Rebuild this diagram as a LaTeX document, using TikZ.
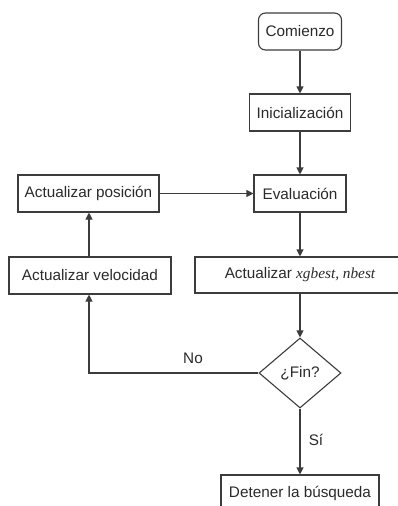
\documentclass[tikz,border=0pt]{standalone}
\usepackage{fontspec}
\setmainfont{Liberation Sans}
\newfontfamily\serifit{Liberation Serif}
\usetikzlibrary{arrows.meta,shapes.geometric}
\definecolor{ln}{HTML}{3C3C3C}
\definecolor{tx}{HTML}{2A2A2A}
\tikzset{
  box/.style={draw=ln, line width=1.1pt, rectangle, minimum height=37pt, inner sep=0pt, text=tx, font=\fontsize{15.3}{18}\selectfont},
  rbox/.style={box, rounded corners=7pt},
  dec/.style={draw=ln, line width=1.1pt, diamond, inner sep=0pt, minimum width=82pt, minimum height=70pt, text=tx, font=\fontsize{15.3}{18}\selectfont},
  arr/.style={draw=ln, line width=1.1pt, -{Triangle[length=7pt,width=7pt]}},
  lbl/.style={text=tx, font=\fontsize{15.3}{18}\selectfont, inner sep=0pt},
}
\begin{document}
\begin{tikzpicture}[x=1pt,y=-1pt]
\useasboundingbox (0,0) rectangle (397,506);
\node[rbox, minimum width=83pt] (start) at (300,31.5) {Comienzo};
\node[box, minimum width=101pt] (init) at (300,112.5) {Inicialización};
\node[box, minimum width=92pt] (eval) at (300,193.5) {Evaluación};
\node[box, minimum width=141pt] (pos) at (88.5,193.5) {Actualizar posición};
\node[box, minimum width=162pt] (vel) at (90,275.5) {Actualizar velocidad};
\node[box, minimum width=210pt, minimum height=36pt] (upd) at (300,275) {Actualizar {\serifit\itshape xgbest, nbest}};
\node[dec] (fin) at (300,373) {¿Fin?};
\node[box, minimum width=158pt, minimum height=36pt] (stop) at (300,493) {Detener la búsqueda};
\coordinate (lx) at (89,373);
\draw[arr] (start) -- (init);
\draw[arr] (init) -- (eval);
\draw[arr] (eval) -- (upd);
\draw[arr] (upd) -- (fin);
\draw[arr] (fin) -- (stop);
\draw[arr] (fin.west) -- (lx) -- (lx |- vel.south);
\draw[arr] (lx |- vel.north) -- (lx |- pos.south);
\draw[arr] (pos.east) -- (eval.west);
\node[lbl] (no) at (193,358) {No};
\node[lbl] (si) at (316,440) {Sí};
\end{tikzpicture}
\end{document}
